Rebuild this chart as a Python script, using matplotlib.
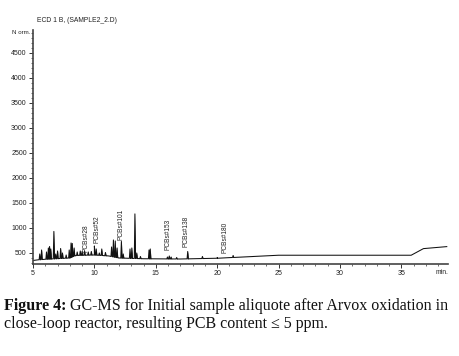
import numpy as np
import matplotlib
matplotlib.use("Agg")
import matplotlib.pyplot as plt
from matplotlib.ticker import MultipleLocator

# ---- data ----
baseline_t = [5.0, 5.5, 6.0, 8.0, 8.4, 10.0, 11.2, 12.0, 14.0, 17.0, 20.0, 25.0, 35.8, 36.8, 38.7]
baseline_y = [350, 365, 375, 400, 450, 460, 440, 400, 385, 380, 395, 455, 455, 587, 627]

peak_t = [5.55, 5.7, 6.1, 6.25, 6.35, 6.45, 6.7, 6.85, 7.0, 7.25, 7.4, 7.7, 7.95, 8.1,
          8.2, 8.35, 8.6, 8.85, 9.0, 9.2, 9.5, 9.75, 10.0, 10.15, 10.4, 10.6, 10.9,
          11.4, 11.55, 11.7, 11.85, 12.2, 12.35, 12.9, 13.05, 13.3, 13.45, 13.75,
          14.45, 14.55, 15.95, 16.1, 16.25, 16.7, 17.6, 18.8, 20.0, 21.3]
peak_h = [480, 560, 520, 600, 630, 580, 930, 480, 540, 590, 500, 460, 560, 700,
          690, 600, 520, 540, 530, 540, 520, 530, 640, 580, 500, 580, 510,
          620, 760, 740, 600, 730, 480, 580, 600, 1280, 500, 430,
          560, 580, 420, 440, 420, 410, 530, 430, 410, 450]

label_names = ["PCBs#28", "PCBs#52", "PCBs#101", "PCBs#153", "PCBs#138", "PCBs#180"]
label_t = [9.3, 10.2, 12.2, 16.0, 17.5, 20.6]
label_y = [520, 700, 760, 560, 620, 500]

title = "ECD 1 B, (SAMPLE2_2.D)"
ylabel = "N orm."
xlabel = "min."
caption_bold = "Figure 4:"
caption_rest1 = " GC-MS for Initial sample aliquote after Arvox oxidation in"
caption_line2 = "close-loop reactor, resulting PCB content \u2264 5 ppm."

# ---- figure ----
W, H = 459, 356
fig = plt.figure(figsize=(W / 100, H / 100), dpi=100)
ax = fig.add_axes([33 / W, 1 - 264 / H, (448 - 33) / W, (264 - 30) / H])

sans = ["Liberation Sans", "DejaVu Sans"]

# build trace: baseline with triangular spikes
w = 0.05
pts = []
for t, y in zip(baseline_t, baseline_y):
    pts.append((t, y))
for t, h in zip(peak_t, peak_h):
    b = np.interp(t, baseline_t, baseline_y)
    pts.append((t - w, b))
    pts.append((t, h))
    pts.append((t + w, b))
pts.sort(key=lambda p: p[0])
tx = np.array([p[0] for p in pts])
ty = np.array([p[1] for p in pts])
base = np.interp(tx, baseline_t, baseline_y)
ax.fill_between(tx, base, ty, color="#222222", lw=0)
ax.plot(tx, ty, color="#111111", lw=0.75)

for name, t, y in zip(label_names, label_t, label_y):
    ax.text(t, y, name, rotation=90, fontsize=4.7, family=sans,
            ha="center", va="bottom", color="#222222")

ax.set_xlim(5, 38.8)
ax.set_ylim(280, 4950)
ax.xaxis.set_minor_locator(MultipleLocator(1))
ax.yaxis.set_minor_locator(MultipleLocator(100))
ax.set_yticks([500, 1000, 1500, 2000, 2500, 3000, 3500, 4000, 4500])
ax.set_xticks([5, 10, 15, 20, 25, 30, 35])
for s in ["top", "right"]:
    ax.spines[s].set_visible(False)
for s in ["left", "bottom"]:
    ax.spines[s].set_color("#444444")
    ax.spines[s].set_linewidth(1.2)
ax.tick_params(axis="both", which="major", length=3, width=0.7, color="#333333",
               labelsize=5.0, pad=1.5, labelcolor="#222222")
ax.tick_params(axis="both", which="minor", length=1.5, width=0.5, color="#333333")
for lab in ax.get_xticklabels() + ax.get_yticklabels():
    lab.set_family(sans)

fig.text(37 / W, 1 - 21 / H, title, fontsize=4.9, family=sans, va="center", ha="left",
         color="#222222")
fig.text(30 / W, 1 - 33 / H, ylabel, fontsize=4.4, family=sans, va="center", ha="right",
         color="#222222")
fig.text(442 / W, 1 - 273 / H, xlabel, fontsize=4.9, family=sans, va="center", ha="center",
         color="#222222")

serif = ["Liberation Serif", "DejaVu Serif"]
cfs = 11.5
tb = fig.text(4 / W, 1 - 310 / H, caption_bold, fontsize=cfs, family=serif,
              weight="bold", va="baseline", ha="left", color="#111111")
fig.canvas.draw()
bb = tb.get_window_extent(fig.canvas.get_renderer())
fig.text(bb.x1 / W, 1 - 310 / H, caption_rest1, fontsize=cfs, family=serif,
         va="baseline", ha="left", color="#111111")
fig.text(4 / W, 1 - 328 / H, caption_line2, fontsize=cfs, family=serif,
         va="baseline", ha="left", color="#111111")

fig.savefig("out.png", dpi=100)
